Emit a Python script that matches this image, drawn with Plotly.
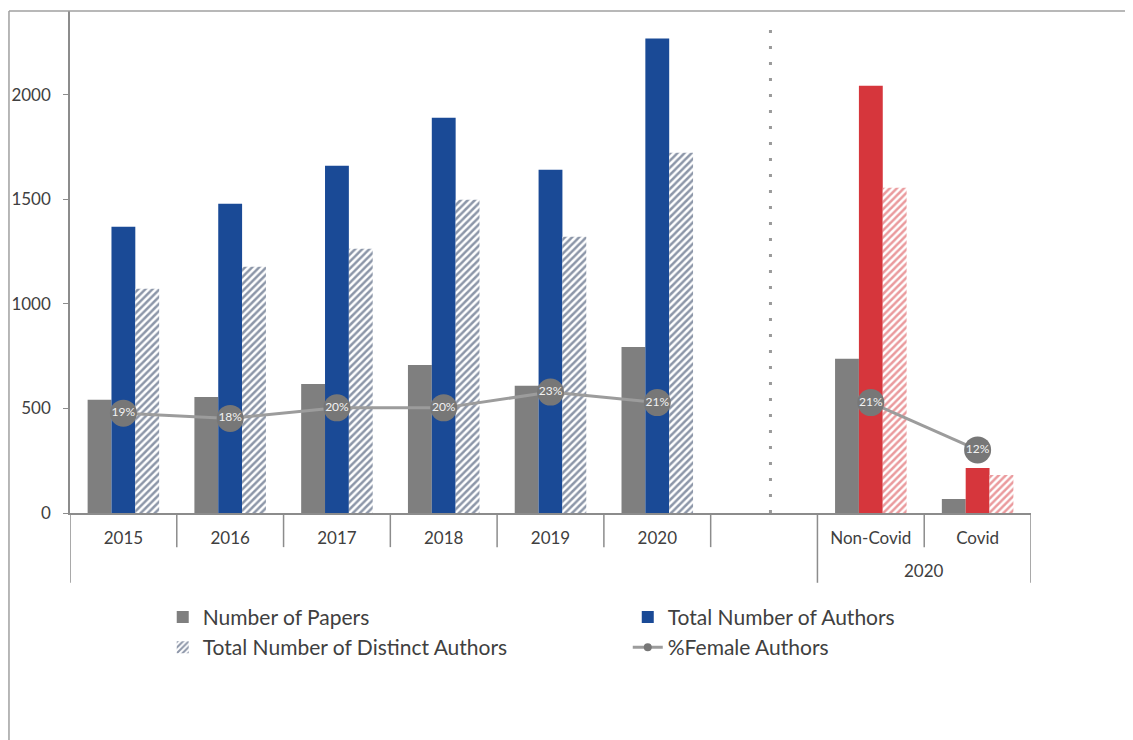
import plotly.graph_objects as go

categories = ["2015", "2016", "2017", "2018", "2019", "2020", " ", "Non-Covid", "Covid"]
papers = [541, 555, 617, 708, 608, 794, None, 737, 67]
authors = [1368, 1478, 1660, 1890, 1641, 2268, None, 2043, 215]
distinct = [1072, 1177, 1263, 1498, 1321, 1722, None, 1555, 182]
female_pct = [0.19, 0.18, 0.20, 0.20, 0.23, 0.21, None, 0.21, 0.12]
y_ticks = [0, 500, 1000, 1500, 2000]
group_label = "2020"

BLUE = "#1a4a96"
RED = "#d6363c"
GRAY = "#7f7f7f"
NAVY = "#1a2d52"
FONT = "Lato"
TXT = "#404040"

covid_flags = [c in ("Non-Covid", "Covid") for c in categories]
author_colors = [RED if f else BLUE for f in covid_flags]
hatch_colors = [RED if f else NAVY for f in covid_flags]

fig = go.Figure()
fig.add_trace(go.Bar(x=categories, y=papers, name="Number of Papers",
                     legend="legend",
                     marker=dict(color=GRAY, line=dict(width=0))))
fig.add_trace(go.Bar(x=categories, y=authors, name="Total Number of Authors",
                     legend="legend2",
                     marker=dict(color=author_colors, line=dict(width=0))))
fig.add_trace(go.Bar(x=categories, y=distinct, name="Total Number of Distinct Authors",
                     legend="legend",
                     marker=dict(color="white", line=dict(width=0),
                                 pattern=dict(shape="/", fgcolor=hatch_colors, bgcolor="white",
                                              size=5, solidity=0.5))))
fig.add_trace(go.Scatter(x=categories, y=female_pct, yaxis="y2", mode="lines+markers+text",
                         showlegend=False, connectgaps=False,
                         line=dict(color="#9c9c9c", width=3),
                         marker=dict(color="#777777", size=27, line=dict(width=0)),
                         text=[f"{round(v*100)}%" if v is not None else "" for v in female_pct],
                         textposition="middle center",
                         textfont=dict(color="#f2f2f2", size=12, family=FONT),
                         cliponaxis=False))
fig.add_trace(go.Scatter(x=[None], y=[None], yaxis="y2", mode="lines+markers",
                         name="%Female Authors", legend="legend2",
                         line=dict(color="#9c9c9c", width=3),
                         marker=dict(color="#777777", size=8)))

shapes = []
long_bounds = [-0.5, 6.5, 8.5]
for i in range(len(categories) + 1):
    b = i - 0.5
    y1 = -0.139 if b in long_bounds else -0.068
    shapes.append(dict(type="line", xref="x", yref="paper", x0=b, x1=b, y0=0, y1=y1,
                       line=dict(color="#8c8c8c", width=1.5)))
# dotted divider
shapes.append(dict(type="line", xref="x", yref="paper", x0=6.06, x1=6.06, y0=0, y1=0.985,
                   line=dict(color="#9a9a9a", width=3, dash="3px,13px")))
# outer frame
shapes.append(dict(type="line", xref="paper", yref="paper", x0=-0.0635, x1=1.2, y0=1.0, y1=1.0,
                   line=dict(color="#a0a0a0", width=1.5)))
shapes.append(dict(type="line", xref="paper", yref="paper", x0=-0.0635, x1=-0.0635, y0=1.0, y1=-0.5,
                   line=dict(color="#a0a0a0", width=1.5)))

leg_common = dict(orientation="v", yanchor="top", xanchor="left",
                  font=dict(size=21, color=TXT, family=FONT),
                  traceorder="normal", bgcolor="rgba(0,0,0,0)")

fig.update_layout(
    width=1125, height=732,
    margin=dict(l=62, r=102, t=3, b=227),
    paper_bgcolor="white", plot_bgcolor="white",
    barmode="group", bargap=0.33, bargroupgap=0,
    font=dict(family=FONT, size=17, color=TXT),
    shapes=shapes,
    xaxis=dict(type="category", categoryorder="array", categoryarray=categories,
               range=[-0.5, 8.5], showline=True, linecolor="#8c8c8c", linewidth=1.5,
               ticks="", ticklabelstandoff=9, showgrid=False, zeroline=False,
               tickfont=dict(size=17, color=TXT, family=FONT)),
    yaxis=dict(range=[0, 2400], tickvals=y_ticks, showline=True, linecolor="#8c8c8c",
               linewidth=1.5, ticks="outside", ticklen=5, tickcolor="#8c8c8c",
               showgrid=False, zeroline=False, ticklabelstandoff=9,
               tickfont=dict(size=17, color=TXT, family=FONT)),
    yaxis2=dict(overlaying="y", range=[0, 0.955], visible=False),
    legend=dict(x=0.0965, y=-0.167, **leg_common),
    legend2=dict(x=0.5804, y=-0.167, **leg_common),
    annotations=[dict(x=7.5, xref="x", y=-0.114, yref="paper", text=group_label,
                      showarrow=False, font=dict(size=17, color=TXT, family=FONT),
                      xanchor="center", yanchor="middle")],
)

fig.write_html("out.html")
